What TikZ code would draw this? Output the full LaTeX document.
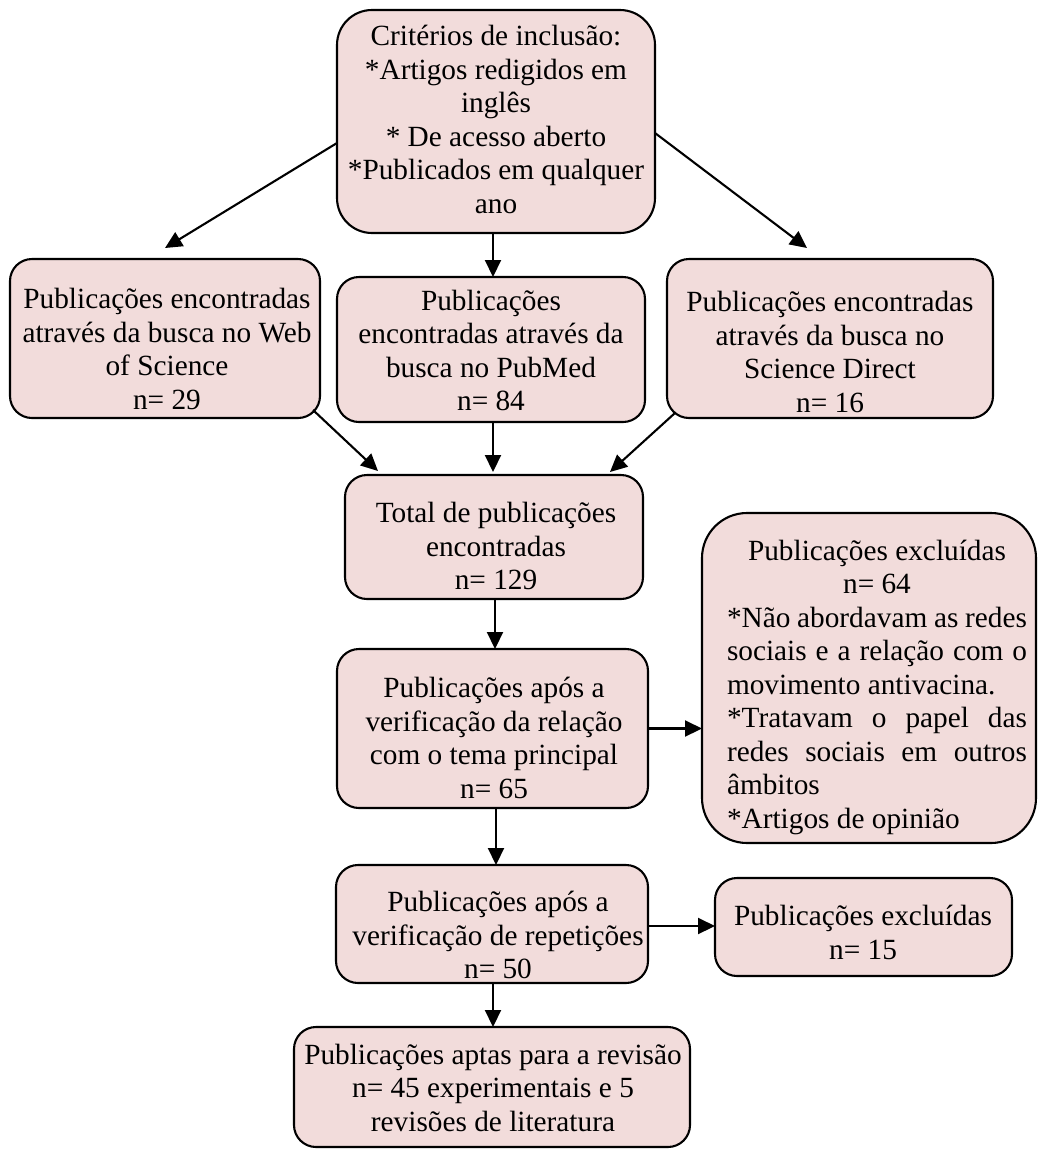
\documentclass[tikz,border=0pt]{standalone}
\usepackage{fontspec}
\setmainfont{Liberation Serif}
\usetikzlibrary{arrows.meta}
\definecolor{boxfill}{RGB}{242,220,219}
\begin{document}
\begin{tikzpicture}[x=1pt,y=-1pt,
  box/.style={draw=black, line width=2.1pt, fill=boxfill, rounded corners=22pt, inner sep=0pt, outer sep=0pt},
  txt/.style={align=center, inner sep=0pt, yshift=-4pt, font=\fontsize{29.3}{33.5}\selectfont,
              execute at begin node=\strut, execute at end node=\strut},
  arr/.style={line width=2.1pt, -{Triangle[length=17pt,width=16pt]}}]
\useasboundingbox (0,0) rectangle (1038,1149);

% boxes
\node[box, minimum width=318pt, minimum height=223pt, rounded corners=35pt] (crit) at (496,121.5) {};
\node[box, minimum width=310pt, minimum height=159pt] (wos) at (165,338.5) {};
\node[box, minimum width=308pt, minimum height=145pt] (pub) at (491,349.5) {};
\node[box, minimum width=326pt, minimum height=159pt] (sd) at (830,338.5) {};
\node[box, minimum width=298pt, minimum height=124pt] (total) at (494,537) {};
\node[box, minimum width=311pt, minimum height=159pt] (verif) at (492.5,728.5) {};
\node[box, minimum width=334pt, minimum height=330pt, rounded corners=45pt] (excl) at (869,678) {};
\node[box, minimum width=312pt, minimum height=118pt] (repet) at (492,924) {};
\node[box, minimum width=297pt, minimum height=98pt] (e15) at (863.5,927) {};
\node[box, minimum width=396pt, minimum height=120pt] (final) at (492,1087) {};

% texts
\node[txt] (critT) at (496,120.5) {Critérios de inclusão:\\*Artigos redigidos em\\inglês\\* De acesso aberto\\*Publicados em qualquer\\ano};
\node[txt] (wosT) at (167,350) {Publicações encontradas\\através da busca no Web\\of Science\\n= 29};
\node[txt] (pubT) at (491,351.5) {Publicações\\encontradas através da\\busca no PubMed\\n= 84};
\node[txt] (sdT) at (830,353) {Publicações encontradas\\através da busca no\\Science Direct\\n= 16};
\node[txt] (totalT) at (496,547) {Total de publicações\\encontradas\\n= 129};
\node[txt] (verifT) at (494,739) {Publicações após a\\verificação da relação\\com o tema principal\\n= 65};
\node[txt, align=left] (exclT) at (877,685) {\makebox[300pt]{Publicações excluídas}\\
  \makebox[300pt]{n= 64}\\
  \makebox[300pt][s]{*Não abordavam as redes}\\
  \makebox[300pt][s]{sociais e a relação com o}\\
  \makebox[300pt][l]{movimento antivacina.}\\
  \makebox[300pt][s]{*Tratavam o papel das}\\
  \makebox[300pt][s]{redes sociais em outros}\\
  \makebox[300pt][l]{âmbitos}\\
  \makebox[300pt][l]{*Artigos de opinião}};
\node[txt] (repetT) at (498,936) {Publicações após a\\verificação de repetições\\n= 50};
\node[txt] (e15T) at (863,933.5) {Publicações excluídas\\n= 15};
\node[txt] (finalT) at (493,1088.5) {Publicações aptas para a revisão\\n= 45 experimentais e 5\\revisões de literatura};

% connectors
\draw[arr] ([yshift=-21.5pt]crit.west) -- ([yshift=11pt]wos.north);
\draw[arr] ([xshift=-3pt]crit.south) -- ([xshift=2pt]pub.north);
\draw[arr] ([yshift=-11.5pt]crit.east) -- ([xshift=-23pt,yshift=11pt]sd.north);
\draw[arr] ([xshift=-7pt,yshift=8pt]wos.south east) -- ([xshift=33pt,yshift=4pt]total.north west);
\draw[arr] ([xshift=2pt]pub.south) -- ([xshift=-1pt,yshift=3pt]total.north);
\draw[arr] ([xshift=8pt,yshift=5pt]sd.south west) -- ([xshift=-33pt,yshift=3pt]total.north east);
\draw[arr] ([xshift=1pt]total.south) -- ([xshift=2.5pt]verif.north);
\draw[arr] (verif.east) -- (verif.east -| excl.west);
\draw[arr] ([xshift=3.5pt]verif.south) -- ([xshift=4pt]repet.north);
\draw[arr] ([yshift=-2pt]repet.east) -- ([yshift=-2pt]repet.east -| e15.west);
\draw[arr] ([xshift=1pt]repet.south) -- ([xshift=1pt]final.north);
\end{tikzpicture}
\end{document}
